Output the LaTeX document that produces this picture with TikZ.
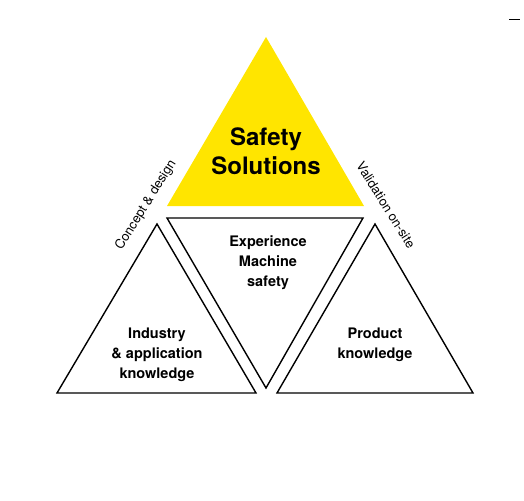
\documentclass[tikz,border=0pt]{standalone}
\usepackage{fontspec}
\setmainfont{TeX Gyre Heros}
\definecolor{safetyyellow}{HTML}{FFE500}

\begin{document}
\begin{tikzpicture}[x=1pt,y=-1pt]
    \tikzstyle{tri} = [draw=black, line width=1.4pt, line join=miter]
    \tikzstyle{headtxt} = [font=\fontsize{24}{29}\selectfont\bfseries, align=center, inner sep=0pt]
    \tikzstyle{fieldtxt} = [font=\fontsize{14.5}{20}\selectfont\bfseries, align=center, inner sep=0pt]
    \tikzstyle{sidetxt} = [font=\fontsize{13}{16}\selectfont, inner sep=0pt]

    \useasboundingbox (0,0) rectangle (524,500);

    % Corners
    \coordinate (ytop) at (266,37);
    \coordinate (yl) at (167,206);
    \coordinate (yr) at (364,206);
    \coordinate (ml) at (167,218);
    \coordinate (mr) at (363,218);
    \coordinate (mbot) at (266,388);
    \coordinate (ltop) at (157,224);
    \coordinate (ll) at (57,393);
    \coordinate (lr) at (256,393);
    \coordinate (rtop) at (375,224);
    \coordinate (rl) at (277,393);
    \coordinate (rr) at (473,393);

    % Triangles
    \fill[safetyyellow] (ytop) -- (yr) -- (yl) -- cycle;
    \draw[tri] (ml) -- (mr) -- (mbot) -- cycle;
    \draw[tri] (ltop) -- (lr) -- (ll) -- cycle;
    \draw[tri] (rtop) -- (rr) -- (rl) -- cycle;

    % Texts
    \node[headtxt] (safety) at (266,151) {Safety\\Solutions};
    \node[fieldtxt] (exper) at (268,263) {Experience\\Machine\\safety};
    \node[fieldtxt] (industry) at (157,355) {Industry\\\&~application\\knowledge};
    \node[fieldtxt] (product) at (375,345) {Product\\knowledge};
    \node[sidetxt, rotate=58] (concept) at (146,205) {Concept \& design};
    \node[sidetxt, rotate=-58] (valid) at (386,205) {Validation on-site};

    % Mark in the corner
    \coordinate (dl) at (509,20);
    \coordinate (dr) at (520,20);
    \draw[line width=1pt] (dl) -- (dr);

\end{tikzpicture}
\end{document}
